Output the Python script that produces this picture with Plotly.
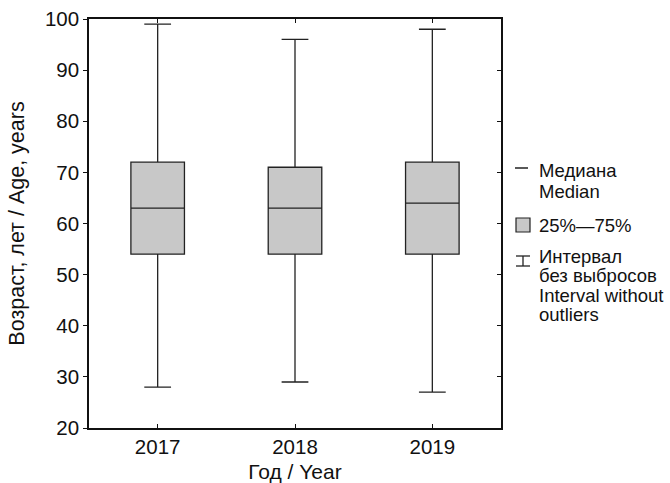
import plotly.graph_objects as go

# Age distribution by year (box summary statistics)
years = ["2017", "2018", "2019"]
lower_whisker = [28, 29, 27]
q1 = [54, 54, 54]
median = [63, 63, 64]
q3 = [72, 71, 72]
upper_whisker = [99, 96, 98]

y_ticks = [20, 30, 40, 50, 60, 70, 80, 90, 100]

FONT = "Liberation Sans"
BOX_FILL = "#c8c8c8"
LINE = "#222222"
INK = "#111111"

W, H = 670, 483
L, T, R, B = 89, 19, 169, 55
PW, PH = W - L - R, H - T - B


def px(x):
    return (x - L) / PW


def py(y):
    return (H - B - y) / PH


fig = go.Figure()

fig.add_trace(go.Box(
    x=years,
    q1=q1,
    median=median,
    q3=q3,
    lowerfence=lower_whisker,
    upperfence=upper_whisker,
    fillcolor=BOX_FILL,
    line=dict(color=LINE, width=1.3),
    width=0.39,
    whiskerwidth=0.5,
    boxpoints=False,
    showlegend=False,
    hoverinfo="skip",
))

# companion trace so the right-hand axis (inward ticks) is drawn
fig.add_trace(go.Scatter(x=years, y=[None, None, None], yaxis="y2",
                         mode="markers", showlegend=False, hoverinfo="skip"))

fig.update_layout(
    width=W, height=H,
    margin=dict(l=L, r=R, t=T, b=B, autoexpand=False),
    paper_bgcolor="white",
    plot_bgcolor="white",
    font=dict(family=FONT, size=19, color=INK),
    xaxis=dict(
        type="category",
        range=[-0.5, 2.5],
        automargin=False,
        showline=True, linecolor=INK, linewidth=1.5,
        mirror="ticks",
        ticks="inside", ticklen=4, tickcolor=INK, tickwidth=1.2,
        tickfont=dict(size=20.5, family=FONT, color=INK),
        title=dict(text="Год / Year", font=dict(size=21, family=FONT, color=INK), standoff=9),
        showgrid=False, zeroline=False,
    ),
    yaxis=dict(
        range=[20, 100],
        tickvals=y_ticks,
        automargin=False,
        showline=True, linecolor=INK, linewidth=1.5,
        mirror=True,
        ticks="outside", ticklen=4, tickcolor=INK, tickwidth=1.2,
        tickfont=dict(size=20.5, family=FONT, color=INK),
        title=dict(text="Возраст, лет / Age, years", font=dict(size=21.5, family=FONT, color=INK), standoff=14),
        showgrid=False, zeroline=False,
    ),
    yaxis2=dict(
        overlaying="y", side="right",
        range=[20, 100],
        tickvals=y_ticks,
        automargin=False,
        showticklabels=False,
        showline=True, linecolor=INK, linewidth=1.5,
        ticks="inside", ticklen=4, tickcolor=INK, tickwidth=1.2,
        showgrid=False, zeroline=False,
    ),
)

# Hand-drawn key on the right
shapes = [
    # median dash
    dict(type="line", xref="paper", yref="paper",
         x0=px(515), x1=px(528), y0=py(168), y1=py(168),
         line=dict(color=LINE, width=1.5)),
    # interquartile box
    dict(type="rect", xref="paper", yref="paper",
         x0=px(516), x1=px(530), y0=py(232), y1=py(218),
         fillcolor=BOX_FILL, line=dict(color=LINE, width=1.2)),
    # whisker symbol
    dict(type="line", xref="paper", yref="paper",
         x0=px(516), x1=px(530), y0=py(256), y1=py(256),
         line=dict(color=LINE, width=1.3)),
    dict(type="line", xref="paper", yref="paper",
         x0=px(516), x1=px(530), y0=py(266), y1=py(266),
         line=dict(color=LINE, width=1.3)),
    dict(type="line", xref="paper", yref="paper",
         x0=px(523), x1=px(523), y0=py(256), y1=py(266),
         line=dict(color=LINE, width=1.3)),
]
fig.update_layout(shapes=shapes)

key_lines = [
    ("Медиана", 170),
    ("Median", 191),
    ("25%—75%", 225),
    ("Интервал", 256),
    ("без выбросов", 275.5),
    ("Interval without", 295),
    ("outliers", 314.5),
]
for text, yc in key_lines:
    fig.add_annotation(
        text=text, xref="paper", yref="paper",
        x=px(538), y=py(yc), xanchor="left", yanchor="middle",
        showarrow=False, borderpad=0,
        font=dict(size=18.5, family=FONT, color=INK),
    )

fig.write_html("out.html")
